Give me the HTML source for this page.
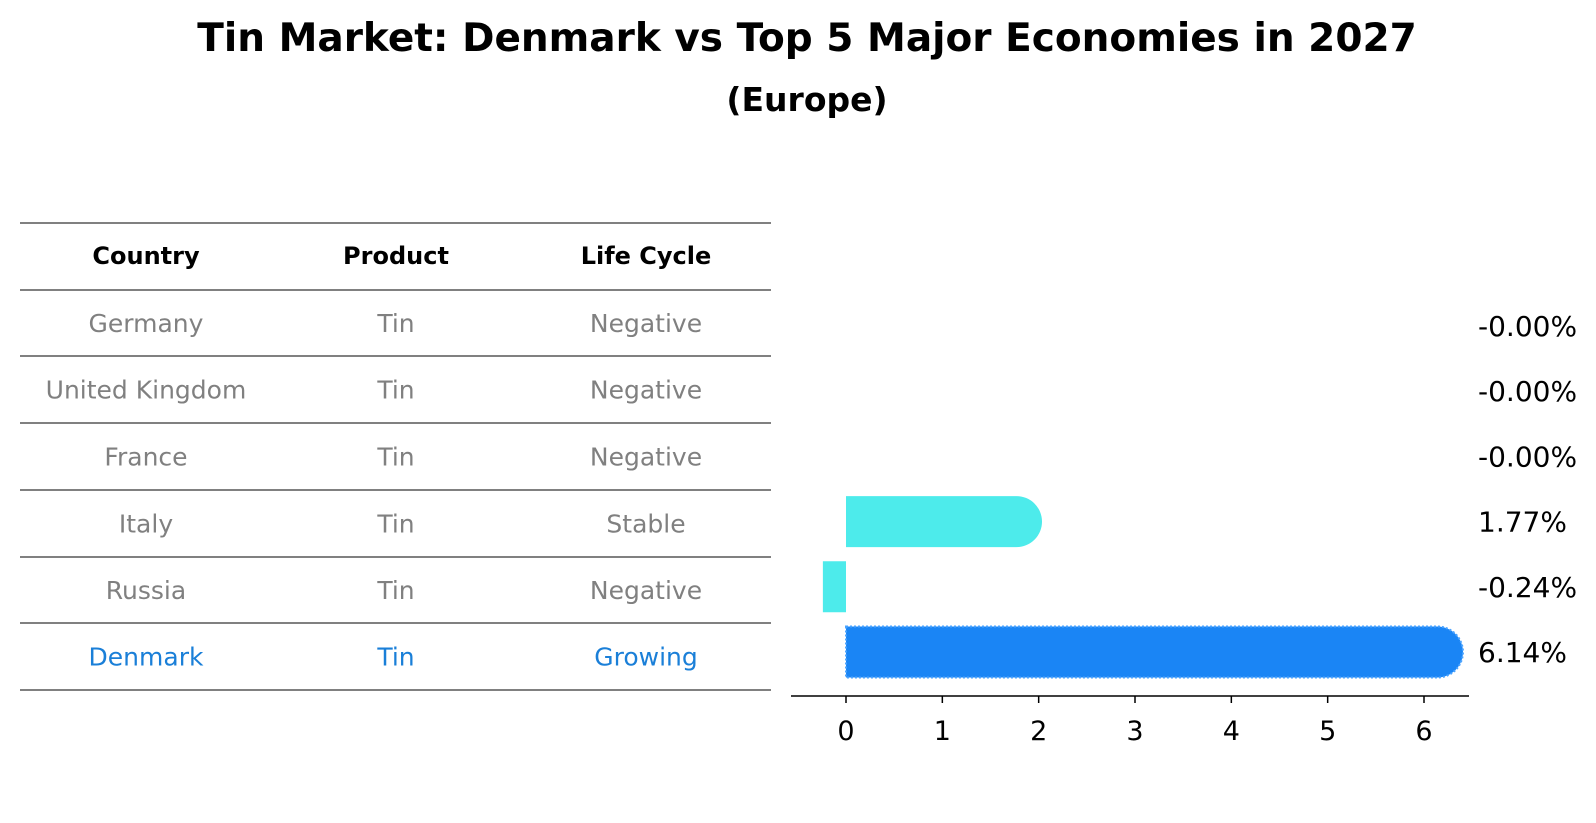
<!DOCTYPE html>
<html><head><meta charset="utf-8"><style>
body{margin:0;background:#fff;font-family:"Liberation Sans","DejaVu Sans",sans-serif;}
#wrap{position:relative;width:1596px;height:823px;overflow:hidden;}
</style></head><body>
<div id="wrap">
<svg id="svg" width="1596" height="823" font-family="DejaVu Sans, Liberation Sans, sans-serif">
<text x="807" y="51" text-anchor="middle" font-size="39" font-weight="bold">Tin Market: Denmark vs Top 5 Major Economies in 2027</text>
<text x="807" y="111" text-anchor="middle" font-size="33" font-weight="bold">(Europe)</text>
<g id="table"></g>
<g id="bars"></g>
</svg>
</div>
<script>
const countries=["Germany","United Kingdom","France","Italy","Russia","Denmark"];
const products=["Tin","Tin","Tin","Tin","Tin","Tin"];
const lifecycle=["Negative","Negative","Negative","Stable","Negative","Growing"];
const values=[-0.001,-0.001,-0.001,1.77,-0.24,6.14];
const valueLabels=["-0.00%","-0.00%","-0.00%","1.77%","-0.24%","6.14%"];
const xTicks=[0,1,2,3,4,5,6];
const NS="http://www.w3.org/2000/svg";
function mk(tag,attrs,parent){const e=document.createElementNS(NS,tag);for(const k in attrs)e.setAttribute(k,attrs[k]);parent.appendChild(e);return e;}
const tbl=document.getElementById('table');
const lineYs=[223,290,356,423,490,557,623,690];
lineYs.forEach((y,i)=>{const l=mk('line',{x1:20,x2:771,y1:y,y2:y,stroke:'#000','stroke-width':1},tbl);

});
const colX=[146,396,646];
["Country","Product","Life Cycle"].forEach((h,i)=>{const t=mk('text',{x:colX[i],y:264,'text-anchor':'middle','font-size':24,'font-weight':'bold'},tbl);t.textContent=h;

});
countries.forEach((c,r)=>{const y=(lineYs[r+1]+lineYs[r+2])/2+9;const col=r===5?'#1a7fd8':'#808080';
[c,products[r],lifecycle[r]].forEach((v,i)=>{const t=mk('text',{x:colX[i],y:y,'text-anchor':'middle','font-size':25,fill:col},tbl);t.textContent=v;

});});
const g=document.getElementById('bars');
const x0=846,unit=(1424-846)/6;
const xs=v=>x0+v*unit;
const yc=i=>326+i*65.2;
const bh=51;
values.forEach((v,i)=>{
 const a=xs(Math.min(0,v)),b=xs(Math.max(0,v));const w=b-a;
 const top=yc(i)-bh/2;const fill=i===5?'#1a85f5':'#4debeb';
 if(w>=0.5){
  let d;
  if(v>0){const r=bh/2;d=`M${a},${top}H${b}A${r},${r} 0 0 1 ${b},${top+bh}H${a}Z`;}
  else d=`M${a},${top}H${b}V${top+bh}H${a}Z`;
  const p=mk('path',{d:d,fill:fill},g);
  if(i===5){p.setAttribute('stroke','#4aa3ff');p.setAttribute('stroke-width','2');p.setAttribute('stroke-dasharray','2,2');}
  
  
 }
 const t=mk('text',{x:1478,y:yc(i)+10,'font-size':28},g);t.textContent=valueLabels[i];
 
 
});
const ax=mk('line',{x1:791,x2:1469,y1:696,y2:696,stroke:'#000','stroke-width':1.5},g);


xTicks.forEach(v=>{const tk=mk('line',{x1:xs(v),x2:xs(v),y1:696,y2:703,stroke:'#000','stroke-width':1.5},g);


const t=mk('text',{x:xs(v),y:740,'text-anchor':'middle','font-size':27},g);t.textContent=v;

});
</script>
</body></html>
